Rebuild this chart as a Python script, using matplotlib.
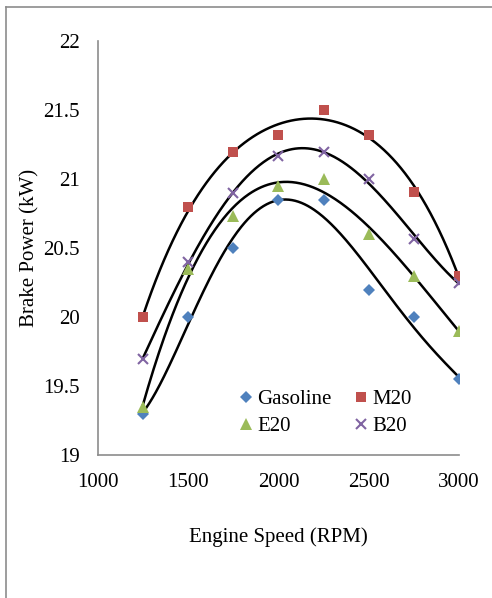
import numpy as np
import matplotlib.pyplot as plt
from matplotlib.lines import Line2D

plt.rcParams['font.family'] = ['Liberation Serif', 'DejaVu Serif']

# Engine speed (RPM)
rpm = [1250, 1500, 1750, 2000, 2250, 2500, 2750, 3000]

# Brake power (kW) for each fuel
gasoline = [19.30, 20.00, 20.50, 20.85, 20.85, 20.20, 20.00, 19.55]
m20 = [20.00, 20.80, 21.20, 21.32, 21.50, 21.32, 20.91, 20.30]
e20 = [19.35, 20.35, 20.73, 20.95, 21.00, 20.60, 20.30, 19.90]
b20 = [19.70, 20.40, 20.90, 21.17, 21.20, 21.00, 20.57, 20.25]

fuels = ['Gasoline', 'M20', 'E20', 'B20']
series = [gasoline, m20, e20, b20]
markers = ['D', 's', '^', 'x']
colors = ['#4F81BD', '#C0504D', '#9BBB59', '#8064A2']
sizes = [6, 7, 8, 7]
trend_order = [5, 4, 4, 4]

fig = plt.figure(figsize=(4.92, 5.98), dpi=100)
ax = fig.add_axes([0.199, 0.239, 0.734, 0.692])

# outer chart-area frame (cut off at right and bottom)
fig.add_artist(Line2D([0.012, 0.012], [0.0, 0.988], color='#8c8c8c', lw=1.2))
fig.add_artist(Line2D([0.012, 1.0], [0.988, 0.988], color='#8c8c8c', lw=1.2))

x = np.array(rpm, dtype=float)
xs = np.linspace(x.min(), x.max(), 300)
handles = {}
for name, vals, m, c, s, k in zip(fuels, series, markers, colors, sizes, trend_order):
    # polynomial trendline (as in a spreadsheet)
    coef = np.polyfit((x - 2000) / 1000, vals, k)
    ax.plot(xs, np.polyval(coef, (xs - 2000) / 1000), color='black', lw=1.8, zorder=2)
    mew = 1.5 if m == 'x' else 0
    h, = ax.plot(rpm, vals, linestyle='none', marker=m, color=c, markersize=s,
                 markeredgewidth=mew, zorder=3, label=name)
    handles[name] = h

ax.set_xlim(1000, 3000)
ax.set_ylim(19, 22)
ax.set_xticks([1000, 1500, 2000, 2500, 3000])
ax.set_yticks([19, 19.5, 20, 20.5, 21, 21.5, 22])
ax.set_yticklabels(['19', '19.5', '20', '20.5', '21', '21.5', '22'])
ax.tick_params(length=0, labelsize=15)
ax.tick_params(axis='y', pad=13)
ax.tick_params(axis='x', pad=13)

for side in ['top', 'right']:
    ax.spines[side].set_visible(False)
for side in ['left', 'bottom']:
    ax.spines[side].set_color('#8c8c8c')
    ax.spines[side].set_linewidth(1.2)

ax.set_xlabel('Engine Speed (RPM)', fontsize=15, labelpad=25)
ax.set_ylabel('Brake Power (kW)', fontsize=15, labelpad=3)

order = ['Gasoline', 'E20', 'M20', 'B20']
ax.legend([handles[k] for k in order], order, ncol=2, frameon=False,
          fontsize=15, loc='upper left', bbox_to_anchor=(0.393, 0.158),
          handlelength=0.6, handletextpad=0.25, columnspacing=1.1,
          labelspacing=0.35, borderaxespad=0.0, borderpad=0.0)

fig.savefig('out.png', dpi=100)
